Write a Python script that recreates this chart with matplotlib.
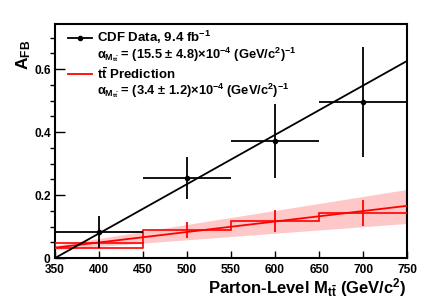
import matplotlib
matplotlib.use("Agg")
import matplotlib.pyplot as plt
import numpy as np

# data
bin_edges = [350, 450, 550, 650, 750]
bin_centers = [400, 500, 600, 700]
cdf_afb = [0.084, 0.255, 0.371, 0.494]
cdf_err_lo = [0.052, 0.068, 0.117, 0.172]
cdf_err_hi = [0.049, 0.067, 0.119, 0.177]

pred_afb = [0.049, 0.090, 0.117, 0.143]
pred_err = [0.009, 0.026, 0.035, 0.042]
pred_low_bin1 = 0.031

fit_x = [350, 750]
cdf_fit = [0.0, 0.626]
pred_fit = [0.033, 0.166]
pred_band_lo = [0.027, 0.110]
pred_band_hi = [0.040, 0.218]

xticks = [350, 400, 450, 500, 550, 600, 650, 700, 750]
yticks = [0, 0.2, 0.4, 0.6]
ytick_labels = ["0", "0.2", "0.4", "0.6"]

plt.rcParams['font.family'] = ['Liberation Sans', 'DejaVu Sans']
plt.rcParams['font.weight'] = 'bold'
plt.rcParams['mathtext.fontset'] = 'custom'
plt.rcParams['mathtext.rm'] = 'Liberation Sans:bold'
plt.rcParams['mathtext.bf'] = 'Liberation Sans:bold'
plt.rcParams['mathtext.it'] = 'Liberation Sans:bold'

fig = plt.figure(figsize=(4.29, 3.08), dpi=100)
ax = fig.add_axes([0.128, 0.162, 0.821, 0.76])

red = '#ff0000'
ax.fill_between(fit_x, pred_band_lo, pred_band_hi, color='#ffc8c8', lw=0, zorder=1)
ax.plot(fit_x, pred_fit, color=red, lw=1.3, zorder=3)

# prediction histogram (step) with the box in the first bin
ax.stairs(pred_afb, bin_edges, color=red, lw=1.2, baseline=None, zorder=3)
ax.plot([bin_edges[0], bin_edges[0]], [pred_low_bin1, pred_afb[0]], color=red, lw=1.2, zorder=3)
ax.plot([bin_edges[0], bin_edges[1], bin_edges[1]], [pred_low_bin1, pred_low_bin1, pred_afb[0]],
        color=red, lw=1.2, zorder=3)
ax.errorbar(bin_centers, pred_afb, yerr=pred_err, fmt='none', ecolor=red, elinewidth=1.3,
            capsize=0, zorder=3)

# CDF data
ax.plot(fit_x, cdf_fit, color='black', lw=1.3, zorder=4)
xerr = [50, 50, 50, 50]
ax.errorbar(bin_centers, cdf_afb, xerr=xerr, yerr=[cdf_err_lo, cdf_err_hi], fmt='o',
            color='black', ms=3, elinewidth=1.3, capsize=0, zorder=5)

ax.set_xlim(350, 750)
ax.set_ylim(0, 0.743)
ax.set_xticks(xticks)
ax.set_xticklabels([str(v) for v in xticks], fontsize=8.6, fontweight='bold')
ax.set_yticks(yticks)
ax.set_yticklabels(ytick_labels, fontsize=8.6, fontweight='bold')
ax.set_yticks(np.arange(0, 0.75, 0.05), minor=True)
ax.tick_params(axis='both', direction='in', width=1.0)
ax.tick_params(axis='x', pad=4.5)
ax.tick_params(axis='y', pad=3)
ax.tick_params(axis='y', which='major', length=7)
ax.tick_params(axis='y', which='minor', length=3.5, width=1.0)
ax.tick_params(axis='x', which='major', length=5)
for s in ax.spines.values():
    s.set_linewidth(1.5)

# legend drawn by hand
ax.plot([0.037, 0.105], [0.942, 0.942], transform=ax.transAxes, color='black', lw=1.3)
ax.plot([0.071], [0.942], transform=ax.transAxes, marker='o', ms=3, color='black')
ax.plot([0.037, 0.105], [0.786, 0.786], transform=ax.transAxes, color=red, lw=1.3)
ax.text(0.119, 0.942, r'CDF Data, 9.4 fb$^{-1}$', transform=ax.transAxes,
        fontsize=9.5, fontweight='bold', va='center')
ax.text(0.119, 0.868, r'$\alpha_{M_{t\bar{t}}}$ = (15.5 $\pm$ 4.8)$\times$10$^{-4}$ (GeV/c$^{2}$)$^{-1}$',
        transform=ax.transAxes, fontsize=9.3, fontweight='bold', va='center')
ax.text(0.119, 0.786, r't$\bar{\rm t}$ Prediction', transform=ax.transAxes,
        fontsize=9.5, fontweight='bold', va='center')
ax.text(0.119, 0.716, r'$\alpha_{M_{t\bar{t}}}$ = (3.4 $\pm$ 1.2)$\times$10$^{-4}$ (GeV/c$^{2}$)$^{-1}$',
        transform=ax.transAxes, fontsize=9.3, fontweight='bold', va='center')

fig.text(0.949, 0.03, r'Parton-Level M$_{t\bar{t}}$ (GeV/c$^{2}$)', ha='right', va='bottom',
         fontsize=12, fontweight='bold')
fig.text(0.055, 0.87, r'A$_{\rm FB}$', rotation=90, ha='center', va='top',
         fontsize=12.5, fontweight='bold')

fig.savefig('out.png', dpi=100)
